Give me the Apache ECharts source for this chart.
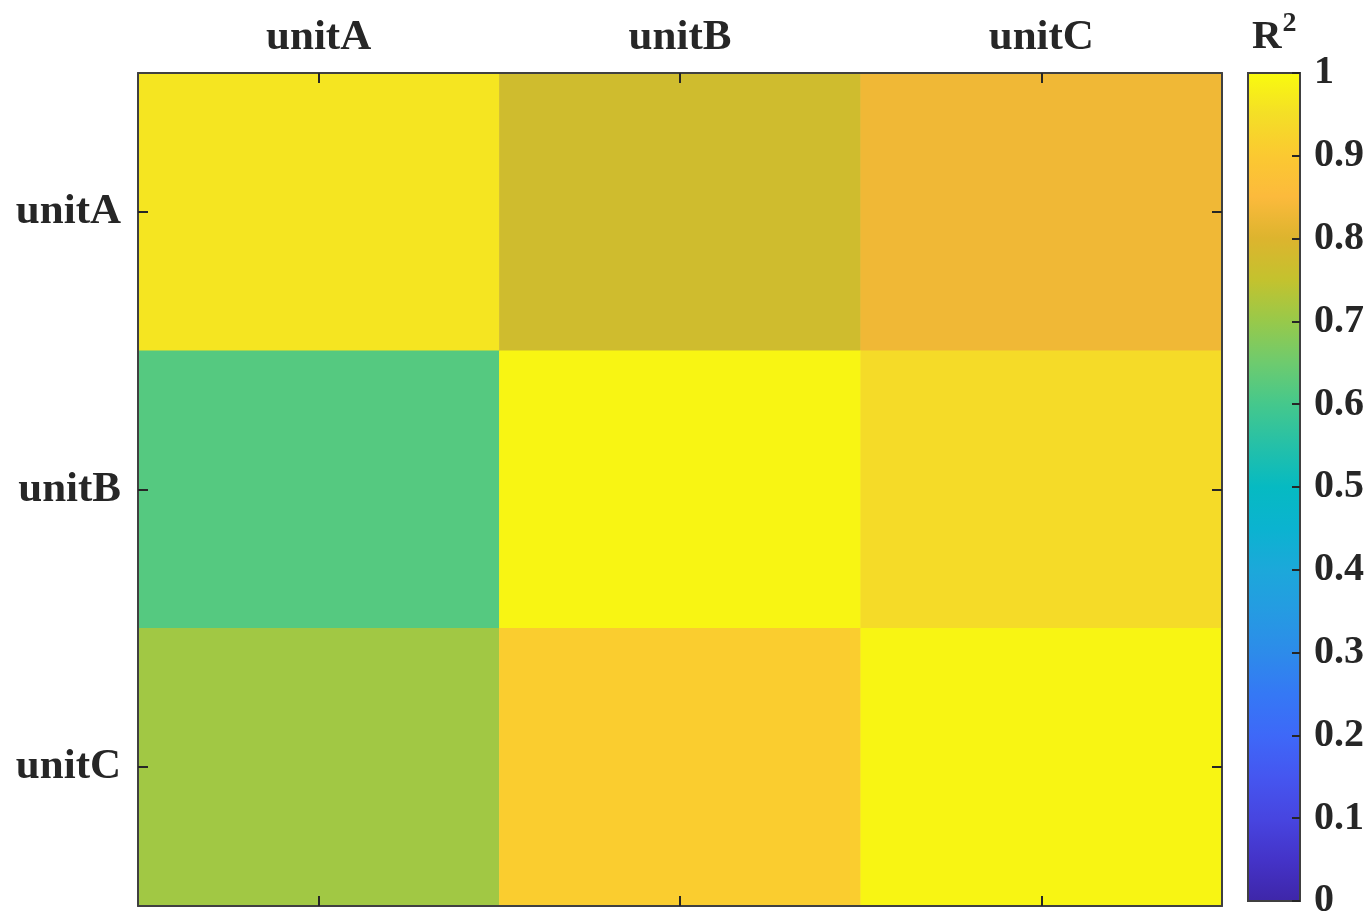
<!DOCTYPE html>
<html>
<head>
<meta charset="utf-8">
<title>R² heatmap</title>
<script src="https://cdn.jsdelivr.net/npm/echarts/dist/echarts.min.js"></script>
<style>
  html, body { margin: 0; padding: 0; background: #ffffff; }
  #chart { width: 1370px; height: 921px; }
</style>
</head>
<body>
<div id="chart"></div>
<script>
// Units compared in the matrix (columns and rows share the same list)
const units = ['unitA', 'unitB', 'unitC'];

// R² values, one array per row (row unit vs. each column unit)
const r2RowUnitA = [0.96, 0.772, 0.83];
const r2RowUnitB = [0.62, 0.99, 0.94];
const r2RowUnitC = [0.71, 0.91, 0.99];

// Colour bar range and tick step
const colorMin = 0;
const colorMax = 1;
const colorStep = 0.1;

// Parula-style colour map, evenly spaced from colorMin to colorMax
const parula = [
  '#3E26A8', '#4433C8', '#4745E0', '#4556F0', '#3E68F8', '#3578F5',
  '#2D8BEA', '#259BE2', '#1CA8DA', '#0BB3D0', '#06BAC2', '#25C0A8',
  '#45C88C', '#6ECB6E', '#98C94A', '#C4C22E', '#DDB42E', '#FCBA3C',
  '#FBC931', '#F4DF26', '#F9FB0E'
];

const rows = [r2RowUnitA, r2RowUnitB, r2RowUnitC];
const cells = [];
rows.forEach((row, yi) => {
  row.forEach((v, xi) => cells.push([xi, yi, v]));
});

const FONT = "'Liberation Serif', 'Times New Roman', serif";
const INK = '#262626';
const FRAME = '#404040';

const plot = { left: 138, top: 73, width: 1084, height: 833 };
const bar = { left: 1248, top: 73, width: 52, height: 832 };

// Vertical gradient for the colour bar: colorMax at the top, colorMin at the bottom
const barGradient = new echarts.graphic.LinearGradient(0, 1, 0, 0,
  parula.map((c, i) => ({ offset: i / (parula.length - 1), color: c })));

function catAxis(pos, showLabels, common) {
  return Object.assign({
    type: 'category',
    data: units,
    gridIndex: 0,
    position: pos,
    z: 10,
    axisLine: { show: true, onZero: false, lineStyle: { color: FRAME, width: 2 } },
    axisTick: { show: true, inside: true, alignWithLabel: true, length: 10,
                lineStyle: { color: INK, width: 2 } },
    axisLabel: { show: showLabels, color: INK, fontFamily: FONT, fontWeight: 'bold',
                 fontSize: 43, margin: 14 },
    splitLine: { show: false },
    splitArea: { show: false }
  }, common || {});
}

const chart = echarts.init(document.getElementById('chart'), null, { renderer: 'canvas' });

chart.setOption({
  backgroundColor: '#ffffff',
  animation: false,
  title: {
    text: '{r|R}{s|2}',
    left: 1252,
    top: 10,
    padding: 0,
    textStyle: {
      rich: {
        r: { fontFamily: FONT, fontWeight: 'bold', fontSize: 41, color: INK, lineHeight: 48, verticalAlign: 'bottom' },
        s: { fontFamily: FONT, fontWeight: 'bold', fontSize: 28, color: INK, lineHeight: 48, verticalAlign: 'top', padding: [0, 0, 0, 1] }
      }
    }
  },
  grid: [
    { left: plot.left, top: plot.top, width: plot.width, height: plot.height, containLabel: false },
    { left: bar.left, top: bar.top, width: bar.width, height: bar.height, containLabel: false,
      show: true, backgroundColor: barGradient, borderColor: FRAME, borderWidth: 2 }
  ],
  xAxis: [
    catAxis('top', true),
    catAxis('bottom', false),
    { type: 'value', gridIndex: 1, min: 0, max: 1, show: false }
  ],
  yAxis: [
    catAxis('left', true, { inverse: true, axisLabel: { show: true, color: INK, fontFamily: FONT,
      fontWeight: 'bold', fontSize: 43, margin: 17 } }),
    catAxis('right', false, { inverse: true }),
    // colour bar labels on the right
    {
      type: 'value', gridIndex: 1, position: 'right', z: 11,
      min: colorMin, max: colorMax, interval: colorStep,
      axisLine: { show: false },
      axisTick: { show: false },
      axisLabel: { show: true, color: INK, fontFamily: FONT, fontWeight: 'bold', fontSize: 40, margin: 14 },
      splitLine: { show: false }
    },
    // colour bar ticks: axis shifted onto the bar's right edge, ticks pointing back into the bar
    {
      type: 'value', gridIndex: 1, position: 'left', offset: -bar.width, z: 11,
      min: colorMin, max: colorMax, interval: colorStep,
      axisLine: { show: false },
      axisTick: { show: true, inside: false, length: 8, lineStyle: { color: INK, width: 2 } },
      axisLabel: { show: false },
      splitLine: { show: false }
    }
  ],
  visualMap: {
    type: 'continuous',
    show: false,
    seriesIndex: 0,
    min: colorMin,
    max: colorMax,
    inRange: { color: parula }
  },
  series: [{
    type: 'heatmap',
    xAxisIndex: 0,
    yAxisIndex: 0,
    data: cells,
    itemStyle: { borderWidth: 0 },
    emphasis: { disabled: true }
  }]
});
</script>
</body>
</html>
